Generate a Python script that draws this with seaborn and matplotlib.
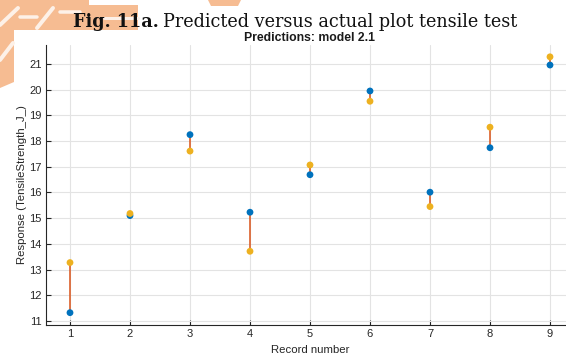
import matplotlib
matplotlib.use("Agg")
import matplotlib.pyplot as plt
import seaborn as sns
import pandas as pd
from matplotlib.patches import Polygon
from matplotlib.lines import Line2D

# Data: true vs. predicted tensile strength per record
records = [1, 2, 3, 4, 5, 6, 7, 8, 9]
true_response = [11.32, 15.10, 18.25, 15.23, 16.69, 19.95, 16.01, 17.74, 20.96]
predicted_response = [13.27, 15.18, 17.61, 13.71, 17.07, 19.55, 15.45, 18.54, 21.28]
x_ticks = [1, 2, 3, 4, 5, 6, 7, 8, 9]
y_ticks = [11, 12, 13, 14, 15, 16, 17, 18, 19, 20, 21]

BLUE = "#0072BD"
YELLOW = "#EDB120"
ERR = "#D95319"
INK = "#262626"

sns.set_theme(style="white")
plt.rcParams["font.family"] = ["Liberation Sans", "DejaVu Sans"]

W, H = 566, 359
fig = plt.figure(figsize=(W / 100, H / 100), dpi=100)
fig.patch.set_facecolor("white")


def fp(pts):
    return [(x / W, 1 - y / H) for x, y in pts]


# Faded logo in the page corner
peach = "#F6BC92"
for poly in [
    [(0, 0), (89, 0), (89, 5), (138, 5), (138, 30), (14, 30), (14, 82), (0, 88)],
    [(208, 0), (241, 0), (238, 6), (211, 6)],
]:
    fig.patches.append(Polygon(fp(poly), closed=True, transform=fig.transFigure,
                               facecolor=peach, edgecolor="none", zorder=-5))
for (x0, y0, x1, y1, w) in [
    (0, 25, 18, 8, 4), (20, 17, 37, 17, 3.5),
    (37, 28, 53, 8, 4), (60, 12, 80, 12, 3.5),
    (0, 60, 13, 43, 4), (104, 18, 138, 18, 3),
]:
    fig.lines.append(Line2D([x0 / W, x1 / W], [1 - y0 / H, 1 - y1 / H],
                            transform=fig.transFigure, color="#FDF1E8",
                            lw=w * 0.72, solid_capstyle="round", zorder=-4))

ax = fig.add_axes([46 / W, 1 - 325 / H, (574 - 46) / W, 280 / H])
ax.set_facecolor("white")

# Error bars between true and predicted values
ax.vlines(records, true_response, predicted_response, color=ERR, lw=1.1, zorder=2)

df = pd.DataFrame({
    "Record number": records + records,
    "Response": true_response + predicted_response,
    "Series": ["True"] * len(records) + ["Predicted"] * len(records),
})
sns.scatterplot(data=df, x="Record number", y="Response", hue="Series",
                palette={"True": BLUE, "Predicted": YELLOW},
                s=24, linewidth=0, legend=False, ax=ax, zorder=3)

ax.set_xlim(0.6, 9.4)
ax.set_ylim(10.84, 21.74)
ax.set_xticks(x_ticks)
ax.set_yticks(y_ticks)
ax.grid(True, color="#E3E3E3", lw=0.8)
ax.set_axisbelow(True)
for side in ["top", "right"]:
    ax.spines[side].set_visible(False)
for side in ["left", "bottom"]:
    ax.spines[side].set_color(INK)
    ax.spines[side].set_linewidth(0.8)
ax.tick_params(direction="in", length=3.6, width=0.8, color=INK,
               labelcolor=INK, labelsize=8, pad=3,
               left=True, bottom=True)

ax.set_xlabel("Record number", fontsize=8.2, color=INK, labelpad=4)
ax.set_ylabel("Response (TensileStrength_J_)", fontsize=8.2, color=INK, labelpad=2)
ax.set_title("Predictions: model 2.1", fontsize=8.8, fontweight="bold",
             color="#1A1A1A", pad=3)

# Caption above the figure: bold label followed by regular text
serif = ["DejaVu Serif"]
t1 = fig.text(73 / W, 1 - 27 / H, "Fig. 11a.", fontsize=12.7, fontweight="bold",
              family=serif, color="#111111", ha="left", va="baseline")
fig.canvas.draw()
r = fig.canvas.get_renderer()
bb = t1.get_window_extent(r)
fig.text((bb.x1 + 4) / W, 1 - 27 / H, "Predicted versus actual plot tensile test",
         fontsize=12.7, family=serif, color="#111111", ha="left", va="baseline")

fig.savefig("out.png", dpi=100)
